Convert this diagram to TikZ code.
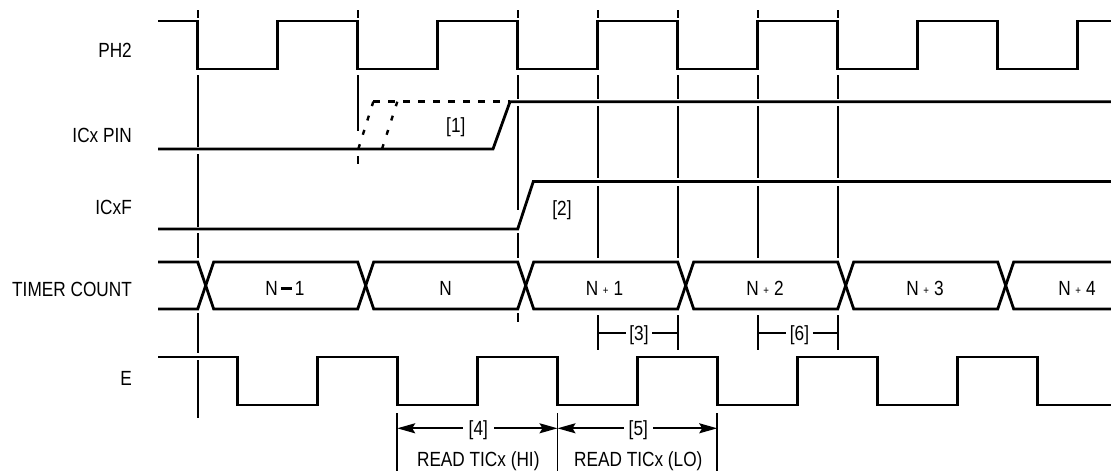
\documentclass[tikz,border=0pt]{standalone}
\usepackage{fontspec}
\setmainfont[FakeStretch=0.84]{Liberation Sans}
\usetikzlibrary{arrows.meta}
\newcommand{\lbf}{\fontsize{20.5}{24}\selectfont}
\newcommand{\smallplus}{\hspace{4.5pt}\raisebox{1.5pt}{\fontsize{11.5}{11.5}\selectfont+}\hspace{5pt}}
\newcommand{\thickminus}{\hspace{3pt}\rule[6pt]{11pt}{3pt}\hspace{3pt}}
\begin{document}
\begin{tikzpicture}[x=1pt,y=-1pt,
  wave/.style={line width=2.8pt, line join=miter},
  dwave/.style={wave, dash pattern=on 7pt off 8pt},
  swave/.style={line width=2.4pt, dash pattern=on 5pt off 10pt},
  refl/.style={line width=1.8pt},
  dimln/.style={line width=1.8pt},
  arr/.style={dimln, -{Stealth[length=18pt,width=10pt,inset=3pt]}},
  lbl/.style={anchor=base east, inner sep=0pt, font=\lbf},
  txt/.style={anchor=base, inner sep=0pt, font=\lbf},
  dtxt/.style={anchor=base, inner ysep=0pt, font=\lbf}]
\useasboundingbox (0,0) rectangle (1111,471);

% signal names
\node[lbl] (lph) at (132,57.3) {PH2};
\node[lbl] (lic) at (132,142.3) {ICx PIN};
\node[lbl] (lif) at (132,214.3) {ICxF};
\node[lbl] (ltc) at (132,296) {TIMER COUNT};
\node[lbl] (le)  at (132,385.8) {E};

% PH2
\draw[wave] (158,21) -| (197.7,69) -| (277.7,21) -| (357.7,69) -| (437.7,21)
  -| (517.7,69) -| (597.7,21) -| (677.7,69) -| (757.7,21) -| (837.7,69)
  -| (917.7,21) -| (997.7,69) -| (1077.7,21) -- (1113,21);

% ICx PIN
\draw[wave] (158,149) -- (493,149) -- (510,101.7) -- (1113,101.7);
\draw[dwave] (373.3,101.7) -- (510,101.7);
\draw[swave] (358.3,149) -- (373.3,101.7);
\draw[swave] (382,149) -- (397.3,101.7);

% ICxF
\draw[wave] (158,229) -- (517.7,229) -- (533.3,181.5) -- (1113,181.5);

% TIMER COUNT
\draw[wave] (158,262) -- (197.7,262) -- (213.7,309) -- (357.7,309) -- (373.7,262)
  -- (517.7,262) -- (533.7,309) -- (677.7,309) -- (693.7,262) -- (837.7,262)
  -- (853.7,309) -- (997.7,309) -- (1013.7,262) -- (1113,262);
\draw[wave] (158,309) -- (197.7,309) -- (213.7,262) -- (357.7,262) -- (373.7,309)
  -- (517.7,309) -- (533.7,262) -- (677.7,262) -- (693.7,309) -- (837.7,309)
  -- (853.7,262) -- (997.7,262) -- (1013.7,309) -- (1113,309);

% E
\draw[wave] (158,357) -| (237.2,405) -| (317.2,357) -| (397.2,405) -| (477.2,357)
  -| (557.2,405) -| (637.2,357) -| (717.2,405) -| (797.2,357) -| (877.2,405)
  -| (957.2,357) -| (1037.2,405) -- (1113,405);

% reference lines
\foreach \x in {197.7,357.7,517.7,597.7,677.7,757.7,837.7}
  \draw[refl] (\x,10) -- (\x,18);
\foreach \a/\b in {75/146.7,154/226.7,233/258,313/353,360/418}
  \draw[refl] (197.7,\a) -- (197.7,\b);
\foreach \a/\b in {75/131,156/164}
  \draw[refl] (357.7,\a) -- (357.7,\b);
\foreach \a/\b in {75/98.5,106/210,233/258,313/322}
  \draw[refl] (517.7,\a) -- (517.7,\b);
\foreach \x in {597.7,677.7,757.7,837.7}
  \foreach \a/\b in {75/98.5,106/178,186/258,315/350}
    \draw[refl] (\x,\a) -- (\x,\b);

% bus values
\node[txt] (n0) at (285,295.5) {N\thickminus 1};
\node[txt] (n1) at (445.7,295.5) {N};
\node[txt] (n2) at (604.5,295.5) {N\smallplus 1};
\node[txt] (n3) at (765,295.5) {N\smallplus 2};
\node[txt] (n4) at (925,295.5) {N\smallplus 3};
\node[txt] (n5) at (1077,295.5) {N\smallplus 4};

% notes
\node[txt] (k1) at (455.8,132.5) {[1]};
\node[txt] (k2) at (562,215) {[2]};

% [3] and [6]
\node[dtxt, inner xsep=3.5pt] (d3) at (639,340.5) {[3]};
\node[dtxt, inner xsep=3.5pt] (d6) at (799.5,340.5) {[6]};
\coordinate (t3a) at (597.7,333.3); \coordinate (t3b) at (677.7,333.3);
\coordinate (t6a) at (757.7,333.3); \coordinate (t6b) at (837.7,333.3);
\draw[dimln] (t3a) -- (d3.west |- t3a);
\draw[dimln] (d3.east |- t3b) -- (t3b);
\draw[dimln] (t6a) -- (d6.west |- t6a);
\draw[dimln] (d6.east |- t6b) -- (t6b);

% [4] and [5]
\foreach \x in {397.2,557.5,717.2}
  \draw[refl] (\x,413) -- (\x,473);
\node[dtxt, inner xsep=6pt] (d4) at (478.3,435.6) {[4]};
\node[dtxt, inner xsep=5pt] (d5) at (638.3,435.6) {[5]};
\coordinate (a4a) at (397.2,428.3); \coordinate (a4b) at (557.5,428.3);
\coordinate (a5a) at (557.5,428.3); \coordinate (a5b) at (717.2,428.3);
\draw[arr] (d4.west |- a4a) -- (a4a);
\draw[arr] (d4.east |- a4b) -- (a4b);
\draw[arr] (d5.west |- a5a) -- (a5a);
\draw[arr] (d5.east |- a5b) -- (a5b);
\node[txt] (r4) at (478.3,466.3) {READ TICx (HI)};
\node[txt] (r5) at (638.3,466.3) {READ TICx (LO)};
\end{tikzpicture}
\end{document}
